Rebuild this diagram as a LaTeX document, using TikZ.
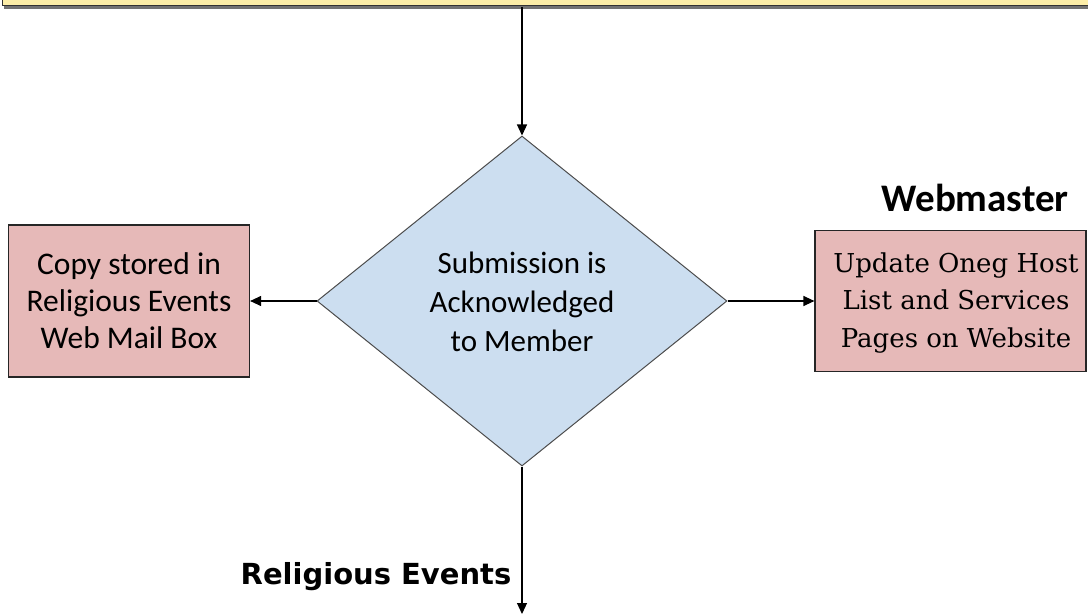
\documentclass[tikz,border=0pt]{standalone}
\usepackage{fontspec}
\setmainfont{Carlito}
\newfontfamily\serifbox{DejaVu Serif}
\newfontfamily\tahomalike{DejaVu Sans}
\usetikzlibrary{shapes.geometric,arrows.meta}
\definecolor{topyellow}{HTML}{FDEEA8}
\definecolor{boxpink}{HTML}{E6B9B8}
\definecolor{diablue}{HTML}{CCDEF0}
\tikzset{
  x=1pt, y=-1pt,
  procbox/.style={draw=black!85, line width=1.2pt, fill=boxpink, rectangle, align=center, inner sep=0pt},
  decbox/.style={draw=black!70, line width=1pt, fill=diablue, diamond, align=center, inner sep=0pt},
  conn/.style={draw=black, line width=1.2pt, -{Triangle[length=11pt,width=10pt]}},
  lane/.style={font=\bfseries, anchor=center}
}
\begin{document}
\begin{tikzpicture}
\useasboundingbox (0,0) rectangle (1088,615);
\begin{scope}
\clip (0,0) rectangle (1088,615);
\fill[black!55] (4,-20) rectangle (1100,9);
\node[draw=black!80, line width=1.2pt, fill=topyellow, minimum width=1100pt, minimum height=26pt, anchor=south west, inner sep=0pt] (top) at (2,6) {};
\end{scope}
\coordinate (topout) at (522,7);
\node[decbox, minimum width=410pt, minimum height=330pt] (dec) at (522,301) {};
\node[align=center, font=\fontsize{31}{39}\selectfont] (dectext) at (522,302) {Submission is\\Acknowledged\\to Member};
\node[procbox, minimum width=241pt, minimum height=152pt, font=\fontsize{31.5}{37}\selectfont] (left) at (129,301) {Copy stored in\\Religious Events\\Web Mail Box};
\node[procbox, minimum width=271pt, minimum height=141pt] (right) at (950.5,301) {};
\node[align=center, font=\serifbox\fontsize{26}{37.5}\selectfont] (righttext) at (956,303) {Update Oneg Host\\List and Services\\Pages on Website};
\node[lane, font=\bfseries\fontsize{39}{44}\selectfont] (web) at (975,198) {Webmaster};
\node[lane, font=\tahomalike\bfseries\fontsize{29}{34}\selectfont] (rel) at (376,577) {Religious Events};
\coordinate (bottomout) at (522,614);
\draw[conn] (topout) -- (dec.north);
\draw[conn] (dec.west) -- (left.east);
\draw[conn] (dec.east) -- (right.west);
\draw[conn] (dec.south) -- (bottomout);
\end{tikzpicture}
\end{document}
